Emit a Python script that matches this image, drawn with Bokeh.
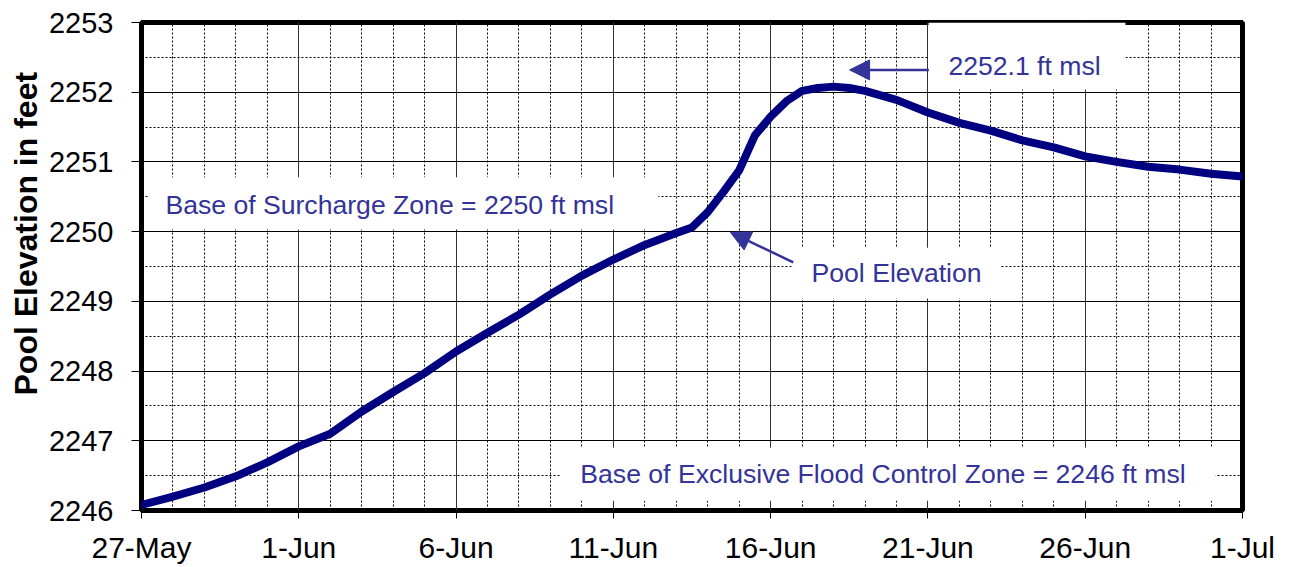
from bokeh.plotting import figure
from bokeh.models import FixedTicker, Range1d, Label, BoxAnnotation, Arrow, NormalHead, Title
from bokeh.embed import file_html
from bokeh.resources import INLINE

# ---- data (day offset from 27-May, pool elevation in ft) ----
days = [0, 1, 2, 3, 4, 5, 6, 7, 8, 9, 10, 11, 12, 13, 14, 15, 16, 17, 17.5, 18, 18.5,
        19, 19.5, 20, 20.5, 21, 21.5, 22, 22.5, 23, 24, 25, 26, 27, 28, 29, 30, 31, 32, 33, 34, 35]
elev = [2246.08, 2246.20, 2246.33, 2246.49, 2246.69, 2246.92, 2247.10, 2247.42, 2247.70, 2247.97,
        2248.28, 2248.55, 2248.81, 2249.10, 2249.37, 2249.60, 2249.81, 2249.98, 2250.06, 2250.28,
        2250.57, 2250.88, 2251.38, 2251.65, 2251.87, 2252.02, 2252.06, 2252.08, 2252.06, 2252.02,
        2251.89, 2251.71, 2251.56, 2251.45, 2251.31, 2251.21, 2251.08, 2251.00, 2250.93, 2250.89,
        2250.83, 2250.79]

tick_days = [0, 5, 10, 15, 20, 25, 30, 35]
tick_labels = ["27-May", "1-Jun", "6-Jun", "11-Jun", "16-Jun", "21-Jun", "26-Jun", "1-Jul"]
minor_days = list(range(0, 36))
y_ticks = [2246, 2247, 2248, 2249, 2250, 2251, 2252, 2253]
y_minor = [2246.5, 2247.5, 2248.5, 2249.5, 2250.5, 2251.5, 2252.5]
y_title = "Pool Elevation in feet"

FONT = "Liberation Sans"
BLUE = "#333399"

p = figure(width=1283, height=566, output_backend="svg", toolbar_location=None,
           x_range=Range1d(0, 35), y_range=Range1d(2246, 2253),
           min_border_left=141, min_border_right=41, min_border_top=22, min_border_bottom=56)

p.background_fill_color = "white"
p.border_fill_color = "white"
p.outline_line_color = "black"
p.outline_line_width = 5

# x axis
p.xaxis.ticker = FixedTicker(ticks=tick_days, minor_ticks=minor_days)
p.xaxis.major_label_overrides = {d: l for d, l in zip(tick_days, tick_labels)}
p.xaxis.major_label_text_font = FONT
p.xaxis.major_label_text_font_size = "30px"
p.xaxis.major_label_text_color = "black"
p.xaxis.major_tick_out = 8
p.xaxis.major_tick_in = 0
p.xaxis.major_tick_line_color = "black"
p.xaxis.minor_tick_line_color = None
p.xaxis.axis_line_color = None
p.xaxis.major_label_standoff = 12

# y axis
p.yaxis.ticker = FixedTicker(ticks=y_ticks, minor_ticks=y_minor)
p.yaxis.major_label_text_font = FONT
p.yaxis.major_label_text_font_size = "29px"
p.yaxis.major_label_text_color = "black"
p.yaxis.major_tick_out = 10
p.yaxis.major_tick_in = 0
p.yaxis.major_tick_line_color = "black"
p.yaxis.minor_tick_line_color = None
p.yaxis.axis_line_color = None
p.yaxis.major_label_standoff = 18

# y-axis title as a side title (shifted upward like the reference)
p.add_layout(Title(text=y_title, align="left", offset=115, standoff=4,
                   text_font=FONT, text_font_style="bold", text_font_size="32px",
                   text_color="black"), "left")

# grids
p.xgrid.grid_line_color = "#333333"
p.xgrid.grid_line_width = 1
p.xgrid.minor_grid_line_color = "black"
p.xgrid.minor_grid_line_dash = "2 2"
p.xgrid.minor_grid_line_width = 1
p.ygrid.grid_line_color = "black"
p.ygrid.grid_line_width = 1
p.ygrid.minor_grid_line_color = "black"
p.ygrid.minor_grid_line_dash = "2 2"
p.ygrid.minor_grid_line_width = 1

# white boxes behind annotation texts
for l, r, b, t in [(0.22, 16.43, 2250.03, 2250.78),
                   (20.72, 27.3, 2249.04, 2249.77),
                   (25.02, 31.28, 2252.04, 2253.0),
                   (13.32, 34.14, 2246.14, 2246.9)]:
    p.add_layout(BoxAnnotation(left=l, right=r, bottom=b, top=t,
                               fill_color="white", fill_alpha=1.0, line_alpha=0))

# the curve
p.line(days, elev, line_color="#000080", line_width=8, line_join="round", line_cap="round")

# arrows
p.add_layout(Arrow(end=NormalHead(size=20, fill_color=BLUE, line_color=BLUE),
                   x_start=25.03, y_start=2252.32, x_end=22.51, y_end=2252.32,
                   line_color=BLUE, line_width=2.5))
p.add_layout(Arrow(end=NormalHead(size=20, fill_color=BLUE, line_color=BLUE),
                   x_start=20.72, y_start=2249.56, x_end=18.72, y_end=2249.99,
                   line_color=BLUE, line_width=2.5))

# labels
for x, y, txt in [(25.65, 2252.38, "2252.1 ft msl"),
                  (0.76, 2250.38, "Base of Surcharge Zone = 2250 ft msl"),
                  (21.3, 2249.4, "Pool Elevation"),
                  (13.95, 2246.52, "Base of Exclusive Flood Control Zone = 2246 ft msl")]:
    p.add_layout(Label(x=x, y=y, text=txt, text_font=FONT, text_font_size="26.6px",
                       text_color=BLUE, text_baseline="middle", text_align="left"))

open("out.html", "w").write(file_html(p, INLINE))
